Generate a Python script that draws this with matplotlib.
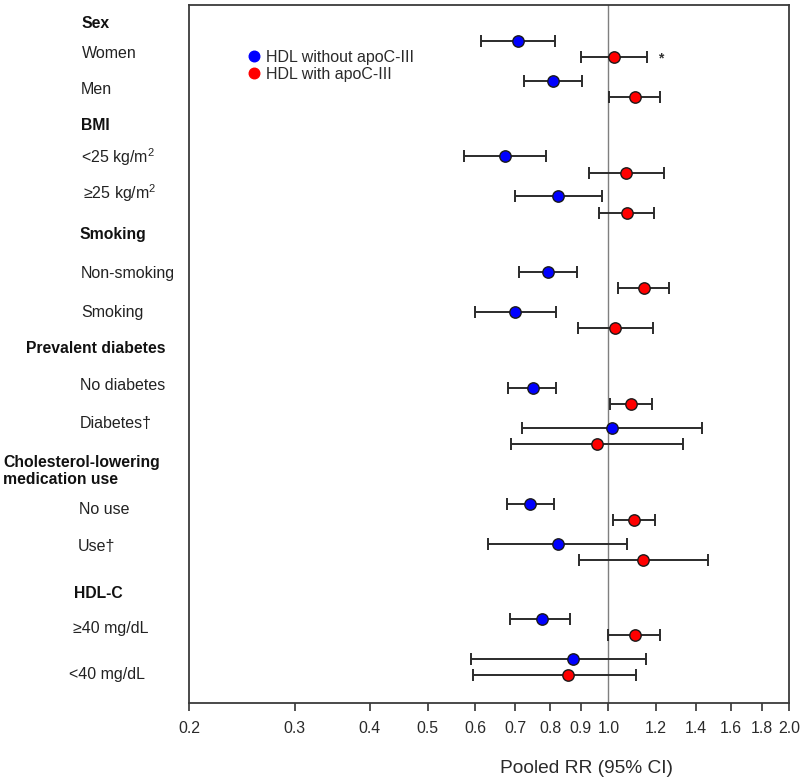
import matplotlib
matplotlib.use("Agg")
import matplotlib.pyplot as plt
from matplotlib.lines import Line2D
import numpy as np

plt.rcParams['font.family'] = ['Liberation Sans', 'DejaVu Sans']
plt.rcParams['mathtext.fontset'] = 'custom'
plt.rcParams['mathtext.rm'] = 'Liberation Sans'
plt.rcParams['mathtext.default'] = 'regular'

# ---------------- data ----------------
group_headers = ["Sex", "BMI", "Smoking", "Prevalent diabetes",
                 "Cholesterol-lowering\nmedication use", "HDL-C"]
subgroups = ["Women", "Men",
             "<25 kg/m$^{2}$", "\u226525 kg/m$^{2}$",
             "Non-smoking", "Smoking",
             "No diabetes", "Diabetes\u2020",
             "No use", "Use\u2020",
             "\u226540 mg/dL", "<40 mg/dL"]

blue_rr = [0.708, 0.807, 0.673, 0.825, 0.793, 0.699, 0.748, 1.013, 0.741, 0.825, 0.775, 0.872]
blue_lo = [0.614, 0.724, 0.575, 0.698, 0.710, 0.599, 0.681, 0.719, 0.677, 0.631, 0.686, 0.590]
blue_hi = [0.814, 0.902, 0.788, 0.976, 0.887, 0.817, 0.818, 1.430, 0.812, 1.076, 0.864, 1.157]

red_rr = [1.023, 1.106, 1.070, 1.073, 1.145, 1.026, 1.091, 0.957, 1.105, 1.143, 1.109, 0.855]
red_lo = [0.901, 1.001, 0.927, 0.966, 1.038, 0.889, 1.005, 0.687, 1.017, 0.893, 0.999, 0.594]
red_hi = [1.160, 1.221, 1.239, 1.191, 1.263, 1.185, 1.184, 1.330, 1.197, 1.468, 1.221, 1.113]

xticks = [0.2, 0.3, 0.4, 0.5, 0.6, 0.7, 0.8, 0.9, 1.0, 1.2, 1.4, 1.6, 1.8, 2.0]
series_names = ["HDL without apoC-III", "HDL with apoC-III"]

# ---------------- layout ----------------
W, H = 800, 780
fig = plt.figure(figsize=(8, 7.8), dpi=100)
ax_l, ax_r, ax_t, ax_b = 189, 789, 5, 703
ax = fig.add_axes([ax_l / W, 1 - ax_b / H, (ax_r - ax_l) / W, (ax_b - ax_t) / H])

# y in pixel units from axes top
GROUP_STEP, ROW_STEP, SER_OFF, Y0 = 115.7, 40.0, 16.2, 35.7
n = len(subgroups)
idx = np.arange(n)
y_blue = Y0 + (idx // 2) * GROUP_STEP + (idx % 2) * ROW_STEP
y_red = y_blue + SER_OFF

ecol = '#2b2b2b'
for rr, lo, hi, yy, col in [(blue_rr, blue_lo, blue_hi, y_blue, '#0000ff'),
                            (red_rr, red_lo, red_hi, y_red, '#ff0000')]:
    rr = np.array(rr); lo = np.array(lo); hi = np.array(hi)
    ax.errorbar(rr, yy, xerr=[rr - lo, hi - rr], fmt='none', ecolor=ecol,
                elinewidth=1.4, capsize=4.3, capthick=1.4, zorder=2)
    ax.plot(rr, yy, 'o', ms=8.2, mfc=col, mec='#1a1a1a', mew=1.0, ls='none', zorder=3)

ax.axvline(1.0, color='#7f7f7f', lw=1.0, zorder=1)

# asterisk next to Women / with apoC-III
ax.annotate("*", xy=(red_hi[0], y_red[0]), xytext=(10, -1), textcoords='offset points',
            ha='center', va='center', fontsize=10, fontweight='bold', color='#333333')

ax.set_xscale('log')
ax.set_xlim(0.2, 2.0)
ax.set_ylim(ax_b - ax_t, 0)
ax.set_xticks(xticks)
ax.set_xticklabels([f"{v:.1f}" for v in xticks])
ax.xaxis.set_minor_locator(matplotlib.ticker.NullLocator())
ax.set_yticks([])
ax.tick_params(axis='x', direction='out', length=6, width=1.2, color='#333333',
               labelsize=11.4, labelcolor='#2a2a2a', pad=7)
for s in ax.spines.values():
    s.set_color('#3a3a3a')
    s.set_linewidth(1.3)

ax.set_xlabel("Pooled RR (95% CI)", fontsize=13.8, color='#2a2a2a', va='center')
ax.xaxis.set_label_coords((586.7 - ax_l) / (ax_r - ax_l), -(768.3 - ax_b) / (ax_b - ax_t))

# legend
handles = [Line2D([], [], marker='o', ls='none', ms=7.6, mfc='#0000ff', mec='#0000ff'),
           Line2D([], [], marker='o', ls='none', ms=7.6, mfc='#ff0000', mec='#ff0000')]
leg = ax.legend(handles, series_names, loc='upper left',
                bbox_to_anchor=(248 / W, 1 - 50 / H), bbox_transform=fig.transFigure,
                frameon=False, fontsize=11.5, handlelength=0.8, handletextpad=0.3,
                labelspacing=0.12, borderpad=0, borderaxespad=0)
for t in leg.get_texts():
    t.set_color('#2a2a2a')

# left labels (figure pixel positions: x, visual centre y)
header_pos = [(81, 22), (81, 124), (79, 233), (26, 348), (3, 461), (74, 592)]
sub_pos = [(82, 52), (81, 88), (81, 157), (83, 193), (81, 272), (81, 311),
           (80, 384), (80, 422), (79, 508), (78, 546), (73, 627), (69, 674)]

for (x, y), txt in zip(header_pos, group_headers):
    lines = txt.split("\n")
    for k, line in enumerate(lines):
        fig.text(x / W, 1 - (y + 5.5 + k * 18) / H, line, fontsize=11.3,
                 fontweight='bold', va='baseline', ha='left', color='#111111')
for (x, y), txt in zip(sub_pos, subgroups):
    fig.text(x / W, 1 - (y + 5.5) / H, txt, fontsize=11.5, va='baseline', ha='left',
             color='#222222')

fig.savefig("out.png", dpi=100)
